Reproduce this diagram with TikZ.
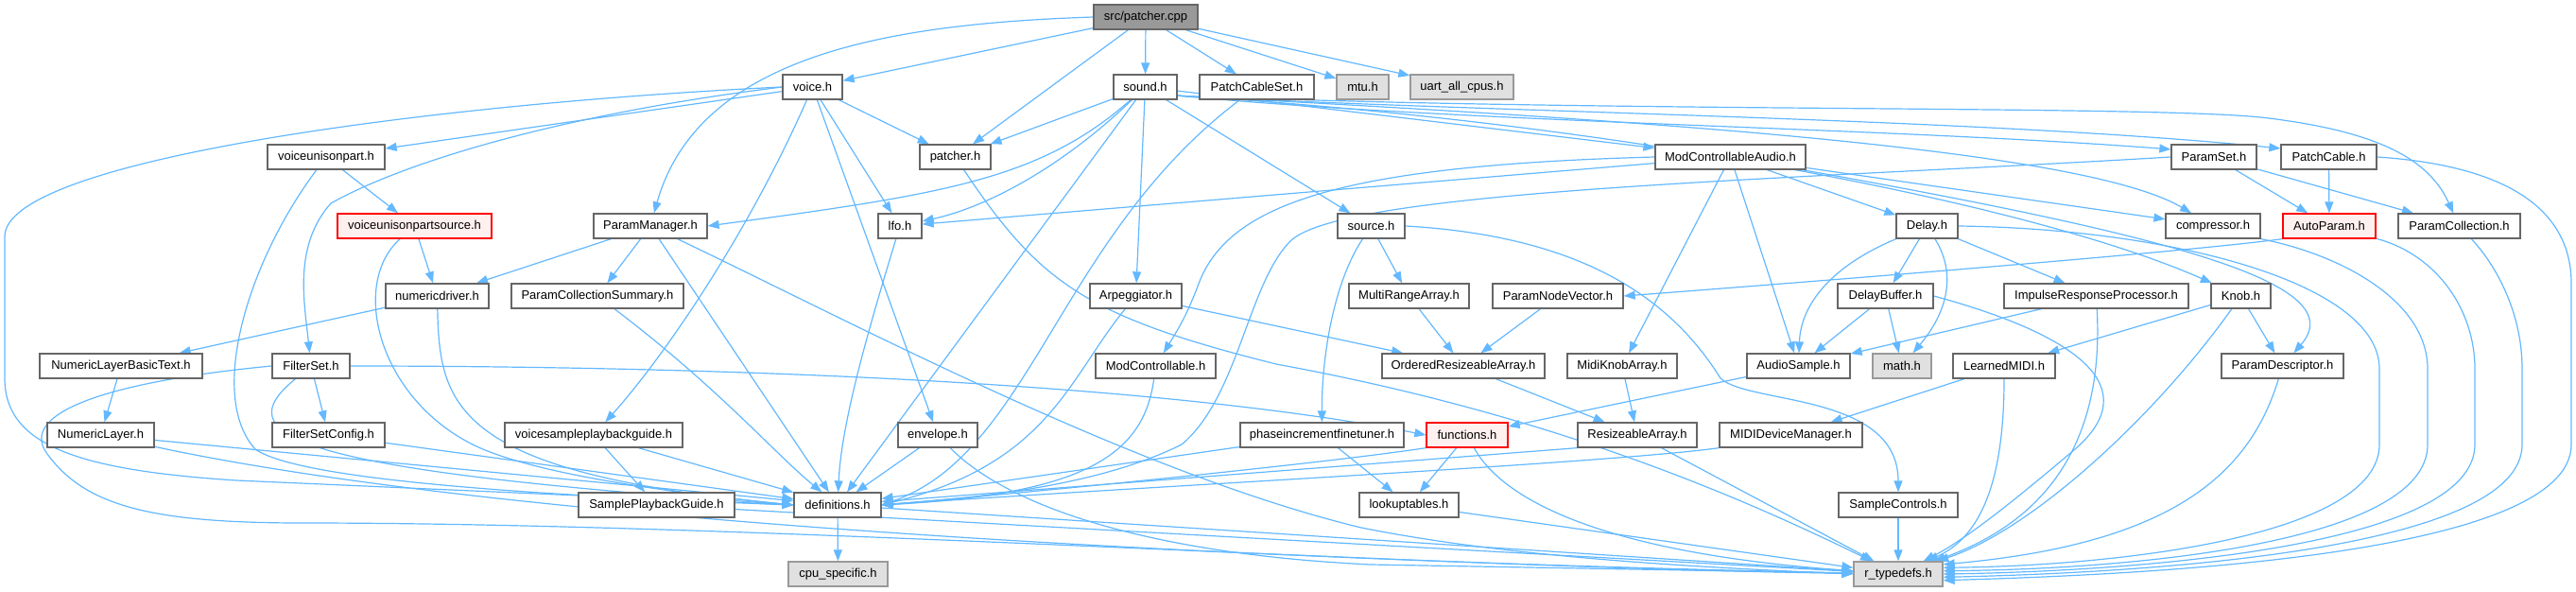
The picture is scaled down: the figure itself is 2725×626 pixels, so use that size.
\documentclass[tikz,border=0pt]{standalone}
\usepackage{fontspec}
\setmainfont{Liberation Sans}
\usetikzlibrary{arrows.meta}
\definecolor{edgec}{HTML}{63B8FF}
\definecolor{bordc}{HTML}{666666}
\definecolor{grayf}{HTML}{E0E0E0}
\definecolor{grayb}{HTML}{999999}
\definecolor{rootf}{HTML}{999999}
\definecolor{redf}{HTML}{FFF0F0}
\pgfdeclarelayer{bg}
\pgfsetlayers{bg,main}
\tikzset{
  nb/.style={draw=bordc, line width=1.3pt, fill=white, minimum height=26pt, inner sep=0pt, font=\fontsize{13}{15}\selectfont, text=black},
  rootn/.style={nb, fill=rootf},
  grayn/.style={nb, fill=grayf, draw=grayb},
  redn/.style={nb, fill=redf, draw=red},
  e/.style={draw=edgec, line width=1.2pt, -{Triangle[length=12pt,width=9pt]}}
}
\begin{document}
\begin{tikzpicture}[x=1pt,y=-1pt]
\useasboundingbox (0,0) rectangle (2725,626);
% row 0
\node[rootn, minimum width=110pt] (patchercpp) at (1212,18) {src/patcher.cpp};
% row 1
\node[nb, minimum width=63pt] (voice) at (859.5,92) {voice.h};
\node[nb, minimum width=67pt] (sound) at (1211.5,92) {sound.h};
\node[nb, minimum width=121pt] (pcset) at (1329.5,92) {PatchCableSet.h};
\node[grayn, minimum width=55pt] (mtu) at (1441.5,92) {mtu.h};
\node[grayn, minimum width=109pt] (uart) at (1546.5,92) {uart\_all\_cpus.h};
% row 2
\node[nb, minimum width=124pt] (vup) at (345,166) {voiceunisonpart.h};
\node[nb, minimum width=75pt] (patcherh) at (1010.5,166) {patcher.h};
\node[nb, minimum width=159pt] (mca) at (1830.5,166) {ModControllableAudio.h};
\node[nb, minimum width=90pt] (paramset) at (2342,166) {ParamSet.h};
\node[nb, minimum width=101pt] (pcable) at (2463.5,166) {PatchCable.h};
% row 3
\node[redn, minimum width=163pt] (vups) at (438.5,239) {voiceunisonpartsource.h};
\node[nb, minimum width=120pt] (pmgr) at (688,239) {ParamManager.h};
\node[nb, minimum width=46pt] (lfo) at (952,239) {lfo.h};
\node[nb, minimum width=71pt] (source) at (1450.5,239) {source.h};
\node[nb, minimum width=65pt] (delay) at (2038.5,239) {Delay.h};
\node[nb, minimum width=100pt] (comp) at (2341,239) {compressor.h};
\node[redn, minimum width=98pt] (autop) at (2464,239) {AutoParam.h};
\node[nb, minimum width=129pt] (pcoll) at (2601.5,239) {ParamCollection.h};
% row 4
\node[nb, minimum width=109pt] (nd) at (462.5,313) {numericdriver.h};
\node[nb, minimum width=182pt] (pcs) at (632,313) {ParamCollectionSummary.h};
\node[nb, minimum width=97pt] (arp) at (1201.5,313) {Arpeggiator.h};
\node[nb, minimum width=127pt] (mra) at (1490.5,313) {MultiRangeArray.h};
\node[nb, minimum width=138pt] (pnv) at (1648,313) {ParamNodeVector.h};
\node[nb, minimum width=101pt] (dbuf) at (1994.5,313) {DelayBuffer.h};
\node[nb, minimum width=195pt] (irp) at (2217.5,313) {ImpulseResponseProcessor.h};
\node[nb, minimum width=63pt] (knob) at (2370.5,313) {Knob.h};
% row 5
\node[nb, minimum width=172pt] (nlbt) at (128,387) {NumericLayerBasicText.h};
\node[nb, minimum width=82pt] (fset) at (329,387) {FilterSet.h};
\node[nb, minimum width=127pt] (modc) at (1222.5,387) {ModControllable.h};
\node[nb, minimum width=172pt] (ora) at (1548,387) {OrderedResizeableArray.h};
\node[nb, minimum width=116pt] (mka) at (1716,387) {MidiKnobArray.h};
\node[nb, minimum width=109pt] (asamp) at (1902.5,387) {AudioSample.h};
\node[grayn, minimum width=62pt] (math) at (2012,387) {math.h};
\node[nb, minimum width=108pt] (lmidi) at (2120,387) {LearnedMIDI.h};
\node[nb, minimum width=129pt] (pdesc) at (2414.5,387) {ParamDescriptor.h};
% row 6
\node[nb, minimum width=113pt] (nl) at (106.5,460) {NumericLayer.h};
\node[nb, minimum width=119pt] (fsc) at (347.5,460) {FilterSetConfig.h};
\node[nb, minimum width=188pt] (vspg) at (628,460) {voicesampleplaybackguide.h};
\node[nb, minimum width=84pt] (env) at (992,460) {envelope.h};
\node[nb, minimum width=173pt] (pift) at (1398.5,460) {phaseincrementfinetuner.h};
\node[redn, minimum width=86pt] (func) at (1552,460) {functions.h};
\node[nb, minimum width=126pt] (ra) at (1732,460) {ResizeableArray.h};
\node[nb, minimum width=151pt] (mdm) at (1894.5,460) {MIDIDeviceManager.h};
% row 7
\node[nb, minimum width=165pt] (spg) at (694.5,534) {SamplePlaybackGuide.h};
\node[nb, minimum width=92pt] (defs) at (886,534) {definitions.h};
\node[nb, minimum width=105pt] (lut) at (1490.5,534) {lookuptables.h};
\node[nb, minimum width=126pt] (sc) at (2008,534) {SampleControls.h};
% row 8
\node[grayn, minimum width=105pt] (cpu) at (886.5,607) {cpu\_specific.h};
\node[grayn, minimum width=94pt] (rt) at (2008,607) {r\_typedefs.h};

\begin{pgfonlayer}{bg}
% root
\draw[e] (patchercpp) -- (voice);
\draw[e] (patchercpp) -- (patcherh);
\draw[e] (patchercpp) -- (sound);
\draw[e] (patchercpp) -- (pcset);
\draw[e] (patchercpp) -- (mtu);
\draw[e] (patchercpp) -- (uart);
\draw[e] (patchercpp.west) .. controls (950,25) and (740,55) .. (pmgr);
% voice
\draw[e] (voice) -- (vup);
\draw[e] (voice.west) .. controls (600,120) and (430,170) .. (350,215) .. controls (310,260) and (322,320) .. (fset);
\draw[e] (voice) -- (patcherh);
\draw[e] (voice) -- (lfo);
\draw[e] (voice) -- (env);
\draw[e] (voice) .. controls (790,250) and (700,380) .. (vspg);
\draw[e] (voice.west) .. controls (450,110) and (5,170) .. (5,250) -- (5,400) .. controls (5,470) and (80,497) .. (250,508) -- (defs.west);
% sound
\draw[e] (sound) -- (patcherh);
\draw[e] (sound) .. controls (1100,190) and (1000,205) .. (pmgr.east);
\draw[e] (sound) .. controls (1120,180) and (1040,220) .. (lfo);
\draw[e] (sound) -- (defs);
\draw[e] (sound) -- (arp);
\draw[e] (sound) -- (source);
\draw[e] (sound) -- (mca);
\draw[e] (sound.-15) .. controls (1550,130) and (2000,135) .. (paramset.170);
\draw[e] (sound.-15) .. controls (1550,118) and (2100,125) .. (pcable.170);
\draw[e] (sound.-15) .. controls (1700,125) and (2200,155) .. (comp);
\draw[e] (sound.-15) .. controls (1700,128) and (2150,215) .. (knob);
% PatchCableSet
\draw[e] (pcset.-15) .. controls (1800,118) and (2300,112) .. (2400,125) .. controls (2520,140) and (2570,170) .. (pcoll);
\draw[e] (pcset) .. controls (1120,250) and (1090,480) .. (defs.east);
% patcher.h
\draw[e] (patcherh) .. controls (1100,300) and (1150,335) .. (1350,385) .. controls (1650,440) and (1850,530) .. (rt);
% voiceunisonpart
\draw[e] (vup) -- (vups);
\draw[e] (vup) .. controls (260,280) and (220,420) .. (270,475) .. controls (320,510) and (600,525) .. (defs.west);
\draw[e] (vups) -- (nd);
\draw[e] (vups) .. controls (370,300) and (400,420) .. (500,470) .. controls (560,500) and (700,520) .. (defs.west);
% ParamManager
\draw[e] (pmgr) -- (nd);
\draw[e] (pmgr) -- (pcs);
\draw[e] (pmgr) -- (defs);
\draw[e] (pmgr) .. controls (900,340) and (1200,500) .. (1440,558) .. controls (1600,590) and (1800,600) .. (rt.west);
\draw[e] (pcs) .. controls (760,410) and (820,480) .. (defs);
% numeric
\draw[e] (nd) -- (nlbt);
\draw[e] (nd) .. controls (465,430) and (480,500) .. (defs.west);
\draw[e] (nlbt) -- (nl);
\draw[e] (nl) -- (defs);
\draw[e] (nl) .. controls (500,545) and (1200,590) .. (rt);
% FilterSet
\draw[e] (fset.east) .. controls (700,387) and (1200,400) .. (func.west);
\draw[e] (fset) -- (fsc);
\draw[e] (fset) .. controls (240,460) and (300,497) .. (defs.west);
\draw[e] (fset.west) .. controls (100,405) and (20,440) .. (50,480) .. controls (90,535) and (160,553) .. (320,553) .. controls (800,553) and (1500,600) .. (rt);
\draw[e] (fsc) -- (defs);
% voice sample playback
\draw[e] (vspg) -- (spg);
\draw[e] (vspg) -- (defs);
\draw[e] (spg) -- (rt);
% definitions
\draw[e] (defs) -- (cpu);
\draw[e] (defs) -- (rt);
% envelope, lfo
\draw[e] (env) -- (defs);
\draw[e] (env) .. controls (1060,530) and (1200,585) .. (1450,597) -- (rt);
\draw[e] (lfo) .. controls (915,360) and (890,450) .. (defs);
% Arpeggiator, ModControllable
\draw[e] (arp) -- (ora);
\draw[e] (arp) .. controls (1130,400) and (1110,490) .. (defs.east);
\draw[e] (modc) .. controls (1210,480) and (1150,522) .. (defs.east);
% ModControllableAudio
\draw[e] (mca.west) .. controls (1420,175) and (1300,215) .. (1268,300) .. controls (1255,335) and (1245,350) .. (modc);
\draw[e] (mca) -- (lfo);
\draw[e] (mca) -- (mka);
\draw[e] (mca) -- (asamp);
\draw[e] (mca) -- (delay);
\draw[e] (mca) -- (comp);
\draw[e] (mca) .. controls (2300,250) and (2490,300) .. (pdesc);
% ParamSet, PatchCable
\draw[e] (paramset) -- (autop);
\draw[e] (paramset) -- (pcoll);
\draw[e] (paramset.west) .. controls (1900,190) and (1420,200) .. (1365,255) .. controls (1320,300) and (1310,420) .. (1250,470) .. controls (1150,520) and (1000,528) .. (defs.east);
\draw[e] (pcable) -- (autop);
\draw[e] (pcable.east) .. controls (2650,175) and (2720,220) .. (2720,300) -- (2720,470) .. controls (2720,590) and (2250,608) .. (rt.-8);
% AutoParam, ParamCollection, compressor, Delay loops
\draw[e] (autop.south west) .. controls (2300,268) and (1850,303) .. (pnv.east);
\draw[e] (autop) .. controls (2580,270) and (2618,330) .. (2618,390) -- (2618,470) .. controls (2618,580) and (2250,604) .. (rt.0);
\draw[e] (pcoll) .. controls (2640,280) and (2668,330) .. (2668,390) -- (2668,470) .. controls (2668,585) and (2250,606) .. (rt.-4);
\draw[e] (comp.south east) .. controls (2480,270) and (2568,320) .. (2568,390) -- (2568,470) .. controls (2568,575) and (2250,602) .. (rt.4);
\draw[e] (delay.east) .. controls (2300,242) and (2517,300) .. (2517,390) -- (2517,470) .. controls (2517,565) and (2250,598) .. (rt.8);
% Knob, ParamDescriptor
\draw[e] (knob) -- (lmidi);
\draw[e] (knob) -- (pdesc);
\draw[e] (knob) .. controls (2280,440) and (2150,560) .. (rt);
\draw[e] (pdesc) .. controls (2380,500) and (2300,575) .. (rt.12);
% ImpulseResponseProcessor, DelayBuffer, Delay
\draw[e] (irp) -- (asamp);
\draw[e] (irp) .. controls (2225,450) and (2180,545) .. (rt);
\draw[e] (dbuf) -- (asamp);
\draw[e] (dbuf) -- (math);
\draw[e] (dbuf.east) .. controls (2200,355) and (2270,410) .. (2195,475) .. controls (2130,530) and (2080,570) .. (rt);
\draw[e] (delay) -- (dbuf);
\draw[e] (delay) .. controls (1940,280) and (1905,320) .. (asamp);
\draw[e] (delay) .. controls (2070,290) and (2060,330) .. (math);
\draw[e] (delay) -- (irp);
\draw[e] (asamp) -- (func);
% source
\draw[e] (source) -- (mra);
\draw[e] (source) .. controls (1410,300) and (1398,380) .. (pift);
\draw[e] (source.east) .. controls (1680,250) and (1770,320) .. (1820,400) .. controls (1850,428) and (2008,415) .. (sc);
% arrays
\draw[e] (mra) -- (ora);
\draw[e] (pnv) -- (ora);
\draw[e] (ora) -- (ra);
\draw[e] (mka) -- (ra);
\draw[e] (ra.south west) -- (defs);
\draw[e] (ra) -- (rt);
% phaseincrement, functions, lookuptables
\draw[e] (pift) -- (defs);
\draw[e] (pift) -- (lut);
\draw[e] (func.south west) .. controls (1400,490) and (1100,520) .. (defs.east);
\draw[e] (func) -- (lut);
\draw[e] (func) .. controls (1590,530) and (1700,585) .. (rt);
\draw[e] (lut) -- (rt);
% MIDI
\draw[e] (mdm.south west) .. controls (1700,490) and (1200,515) .. (defs.east);
\draw[e] (lmidi) -- (mdm);
\draw[e] (lmidi) .. controls (2120,520) and (2090,570) .. (rt);
\draw[e] (sc) -- (rt);
\end{pgfonlayer}
\end{tikzpicture}
\end{document}
